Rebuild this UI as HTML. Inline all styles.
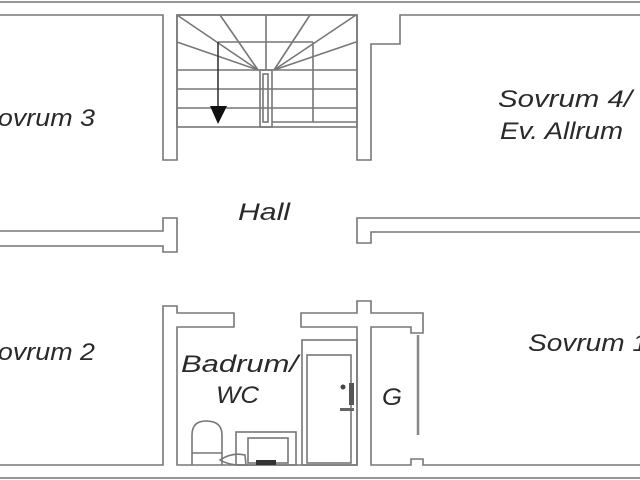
<!DOCTYPE html>
<html><head><style>
html,body{margin:0;padding:0;background:#fff;}
svg{display:block}
text{font-family:"Liberation Sans",sans-serif;font-style:italic;font-size:24px;fill:#2a2a2a;}
</style></head><body>
<svg width="640" height="480" viewBox="0 0 640 480" xmlns="http://www.w3.org/2000/svg">
<g fill="none" stroke="#777" stroke-width="1.6">
<line x1="0" y1="2" x2="640" y2="2"/>
<line x1="0" y1="478" x2="640" y2="478"/>
<polyline points="0,15 163,15 163,160 177,160 177,15 357,15 357,160 371,160 371,44 400,44 400,15 640,15"/>
<polyline points="0,231 163,231 163,218 177,218 177,252 163,252 163,246 0,246"/>
<polyline points="640,218 357,218 357,243 371,243 371,232 640,232"/>
<polyline points="0,465 163,465 163,306 177,306 177,313 234,313 234,327 177,327 177,465 357,465 357,327 301,327 301,313 357,313 357,301 371,301 371,313 423,313 423,333 411,333 411,327 371,327 371,465 411,465 411,459 423,459 423,465 640,465"/>
<rect x="177" y="15" width="180" height="112"/>
<line x1="177" y1="70" x2="357" y2="70"/>
<line x1="177" y1="89" x2="357" y2="89"/>
<line x1="177" y1="108" x2="357" y2="108"/>
<line x1="218" y1="42" x2="313" y2="42"/>
<line x1="266" y1="15" x2="266" y2="70"/>
<line x1="218" y1="42" x2="218" y2="108"/>
<line x1="313" y1="42" x2="313" y2="122"/>
<line x1="177" y1="15" x2="258" y2="70"/>
<line x1="220" y1="15" x2="258" y2="70"/>
<line x1="177" y1="42" x2="258" y2="70"/>
<line x1="356" y1="15" x2="274" y2="70"/>
<line x1="310" y1="15" x2="274" y2="70"/>
<line x1="356" y1="42" x2="274" y2="70"/>
<rect x="260" y="70" width="12" height="57"/>
<rect x="263" y="74" width="5" height="48"/>
<line x1="272" y1="122" x2="357" y2="122"/>
<rect x="302" y="340" width="55" height="125"/>
<rect x="307" y="355" width="44" height="108"/>
<path d="M192,465 V435 Q192,421 206,421 Q222,421 222,435 V465"/>
<line x1="192" y1="453" x2="222" y2="453"/>
<rect x="236" y="432" width="60" height="33"/>
<rect x="248" y="438" width="40" height="25"/>
<path d="M220,460 Q232,452 245,455 L246,465 Q230,466 220,460Z"/>
<line x1="418" y1="335" x2="418" y2="435" stroke-width="2.5" stroke="#888"/>
</g>
<polygon points="210,106 227,106 218,124" fill="#111"/>
<line x1="218" y1="42" x2="218" y2="108" stroke="#111" stroke-width="1"/>
<circle cx="343" cy="387" r="2.5" fill="#444"/>
<rect x="349" y="383" width="5" height="22" fill="#555"/>
<rect x="340" y="408" width="14" height="3" fill="#666"/>
<rect x="256" y="460" width="20" height="5" fill="#333"/>
<text x="-20" y="126" textLength="115" lengthAdjust="spacingAndGlyphs">Sovrum 3</text>
<text x="-20" y="360" textLength="115" lengthAdjust="spacingAndGlyphs">Sovrum 2</text>
<text x="498" y="107" textLength="134" lengthAdjust="spacingAndGlyphs">Sovrum 4/</text>
<text x="500" y="139" textLength="123" lengthAdjust="spacingAndGlyphs">Ev. Allrum</text>
<text x="528" y="351" textLength="120" lengthAdjust="spacingAndGlyphs">Sovrum 1</text>
<text x="238" y="220" textLength="52" lengthAdjust="spacingAndGlyphs">Hall</text>
<text x="181" y="372" textLength="117" lengthAdjust="spacingAndGlyphs">Badrum/</text>
<text x="216" y="403" textLength="43" lengthAdjust="spacingAndGlyphs">WC</text>
<text x="382" y="405" textLength="20" lengthAdjust="spacingAndGlyphs">G</text>
</svg>
</body></html>
